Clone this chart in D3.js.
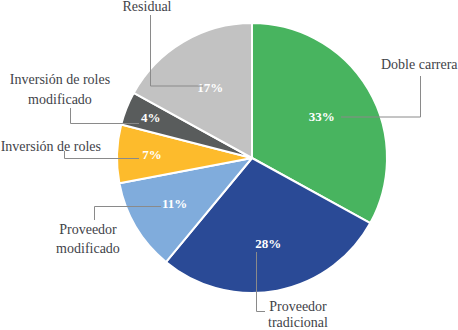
<!DOCTYPE html>
<html>
<head>
<meta charset="utf-8">
<script src="https://cdn.jsdelivr.net/npm/d3@7"></script>
<style>
  body { margin: 0; background: #fff; }
</style>
</head>
<body>
<svg id="canvas"></svg>
<script>
const categories = ["Doble carrera", "Proveedor tradicional", "Proveedor modificado",
    "Inversión de roles", "Inversión de roles modificado", "Residual"];
const values = [33, 28, 11, 7, 4, 17];
const valueLabels = ["33%", "28%", "11%", "7%", "4%", "17%"];
const colors = ["#48b45f", "#2a4a96", "#80acdc", "#fdbb2c", "#595c5c", "#c2c2c2"];

const width = 458,
    height = 330;
const fontSerif = "'Liberation Serif', 'DejaVu Serif', 'Times New Roman', serif";

const svg = d3.select("#canvas")
    .attr("width", width)
    .attr("height", height);

const cx = 252, cy = 158, radius = 135;

// layout for the outside labels: text lines, where they go, leader path
const labelLayout = [
    { r: 81, lines: ["Doble carrera"], x: 381, y: 64, anchor: "start", gap: 19,
      path: [[341, 117], [420.5, 117], [420.5, 76]] },
    { r: 87, lines: ["Proveedor", "tradicional"], x: 298, y: 306, anchor: "middle", gap: 16.5,
      path: [[256.5, 252], [256.5, 311.5], [265, 311.5]] },
    { r: 90, lines: ["Proveedor", "modificado"], x: 88, y: 229, anchor: "middle", gap: 19,
      path: [[161, 206.5], [94.5, 206.5], [94.5, 220]] },
    { r: 100, lines: ["Inversión de roles"], x: 101, y: 146, anchor: "end", gap: 19,
      path: [[139, 158.5], [64.5, 158.5], [64.5, 151]] },
    { r: 109, lines: ["Inversión de roles", "modificado"], x: 60, y: 79, anchor: "middle", gap: 20,
      path: [[139, 123.5], [70.5, 123.5], [70.5, 108]] },
    { r: 82, lines: ["Residual"], x: 147, y: 6, anchor: "middle", gap: 19,
      path: [[203, 86], [150.5, 86], [150.5, 15]] },
];

const pie = d3.pie().sort(null).value(d => d)(values);

const arc = d3.arc().innerRadius(0).outerRadius(radius);

const g = svg.append("g").attr("transform", `translate(${cx}, ${cy})`);

g.selectAll("path.slice")
    .data(pie)
    .join("path")
    .classed("slice", true)
    .attr("d", arc)
    .attr("fill", (d, i) => colors[i])
    .attr("stroke", "#fff")
    .attr("stroke-width", 2)
    .attr("stroke-linejoin", "round");

// leader lines
svg.selectAll("path.leader")
    .data(labelLayout)
    .join("path")
    .classed("leader", true)
    .attr("d", d => d3.line()(d.path))
    .attr("fill", "none")
    .attr("stroke", "#8a8a8a")
    .attr("stroke-width", 1);

// percentage labels inside slices
g.selectAll("text.pct")
    .data(pie)
    .join("text")
    .classed("pct", true)
    .attr("transform", (d, i) => {
        const r = labelLayout[i].r;
        const c = d3.arc().innerRadius(r).outerRadius(r).centroid(d);
        return `translate(${c[0]}, ${c[1]})`;
    })
    .attr("text-anchor", "middle")
    .attr("dy", "0.35em")
    .attr("fill", "#fff")
    .attr("font-family", fontSerif)
    .attr("font-weight", "bold")
    .attr("font-size", 13)
    .text((d, i) => valueLabels[i]);

// category labels
const cat = svg.selectAll("text.cat")
    .data(labelLayout)
    .join("text")
    .classed("cat", true)
    .attr("x", d => d.x)
    .attr("y", d => d.y)
    .attr("text-anchor", d => d.anchor)
    .attr("fill", "#3f4349")
    .attr("font-family", fontSerif)
    .attr("font-size", 14);

cat.selectAll("tspan")
    .data(d => d.lines.map(l => ({ text: l, x: d.x, gap: d.gap })))
    .join("tspan")
    .attr("x", d => d.x)
    .attr("dy", (d, i) => i === 0 ? "0.35em" : d.gap + "px")
    .text(d => d.text);
</script>
</body>
</html>
